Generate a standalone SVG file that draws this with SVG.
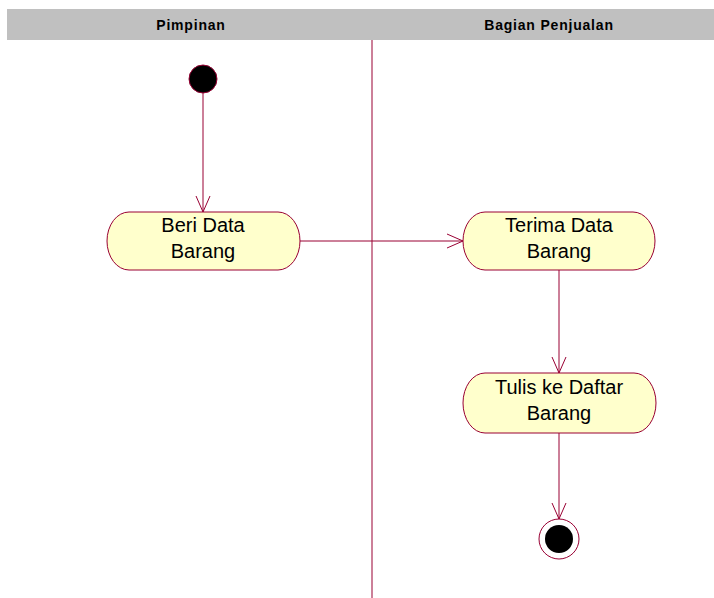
<svg xmlns="http://www.w3.org/2000/svg" width="714" height="598" viewBox="0 0 714 598">
<style>
.lane{fill:#c0c0c0}
.hdr{font-family:"Liberation Sans",Arial,sans-serif;font-size:14px;font-weight:bold;fill:#000;text-anchor:middle;letter-spacing:0.8px}
.act{fill:#ffffcc;stroke:#990033;stroke-width:1}
.lbl{font-family:"Liberation Sans",Arial,sans-serif;font-size:20px;fill:#000;text-anchor:middle}
.con{stroke:#990033;stroke-width:1;fill:none}
</style>
<defs>
<marker id="arr" markerWidth="20" markerHeight="20" refX="17" refY="8" orient="auto" markerUnits="userSpaceOnUse">
<path d="M1,1 L17,8 L1,15" fill="none" stroke="#990033" stroke-width="1"/>
</marker>
</defs>
<rect class="lane" x="7" y="9" width="707" height="31"/>
<text class="hdr" x="191" y="30">Pimpinan</text>
<text class="hdr" x="549" y="30">Bagian Penjualan</text>
<line x1="372" y1="40" x2="372" y2="598" stroke="#990033" stroke-width="1"/>
<g id="connectors">
<line class="con" x1="203" y1="93" x2="203" y2="212" marker-end="url(#arr)"/>
<line class="con" x1="300" y1="241" x2="463" y2="241" marker-end="url(#arr)"/>
<line class="con" x1="559" y1="270" x2="559" y2="373" marker-end="url(#arr)"/>
<line class="con" x1="559" y1="433" x2="559" y2="519" marker-end="url(#arr)"/>
</g>
<g id="start">
<circle cx="203" cy="79" r="14" fill="#000" stroke="#990033" stroke-width="1"/>
</g>
<g id="beri">
<path class="act" d="M129,212 H278 A22,29 0 0 1 278,270 H129 A22,29 0 0 1 129,212 Z"/>
<text class="lbl" x="203" y="232">Beri Data</text>
<text class="lbl" x="203" y="258">Barang</text>
</g>
<g id="terima">
<path class="act" d="M485,212 H633 A22,29 0 0 1 633,270 H485 A22,29 0 0 1 485,212 Z"/>
<text class="lbl" x="559" y="232">Terima Data</text>
<text class="lbl" x="559" y="258">Barang</text>
</g>
<g id="tulis">
<path class="act" d="M485,373 H634 A22,30 0 0 1 634,433 H485 A22,30 0 0 1 485,373 Z"/>
<text class="lbl" x="559" y="394">Tulis ke Daftar</text>
<text class="lbl" x="559" y="420">Barang</text>
</g>
<g id="end">
<circle cx="559" cy="539" r="20" fill="#fff" stroke="#990033" stroke-width="1"/>
<circle cx="559" cy="539" r="14" fill="#000"/>
</g>
</svg>
